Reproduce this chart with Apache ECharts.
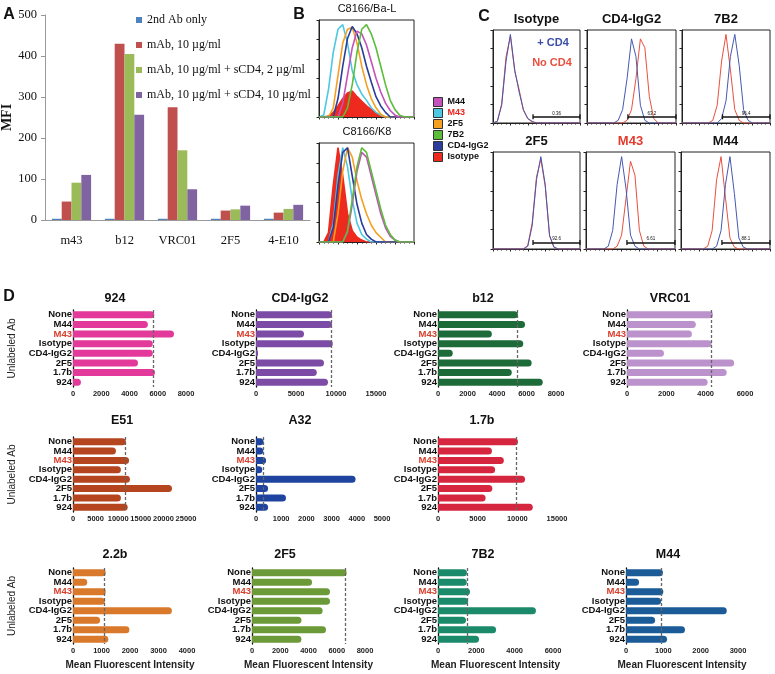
<!DOCTYPE html>
<html lang="en">
<head>
<meta charset="UTF-8">
<title>MFI panels | ECharts</title>
<script src="https://cdn.jsdelivr.net/npm/echarts@6.0.0/dist/echarts.min.js"></script>
<style>body{margin:0;background:#fff}</style>
</head>
<body>
<div id="main" style="width:775px;height:674px"></div>
<script>
// ---------- panel A : MFI by mAb ----------
var aCats = ['m43', 'b12', 'VRC01', '2F5', '4-E10'];
var aNames = ['2nd Ab only', 'mAb, 10 µg/ml', 'mAb, 10 µg/ml + sCD4, 2 µg/ml', 'mAb, 10 µg/ml + sCD4, 10 µg/ml'];
var aSecond = [3, 3, 3, 3, 3];
var aMab = [45, 430, 275, 23, 18];
var aMabLow = [91, 405, 170, 26, 27];
var aMabHigh = [110, 257, 75, 35, 37];

// ---------- panel B : histograms (x = channel 0..100, step 5) ----------
var histX = [0, 5, 10, 15, 20, 25, 30, 35, 40, 45, 50, 55, 60, 65, 70, 75, 80, 85, 90, 95, 100];
var bNames = ['M44', 'M43', '2F5', '7B2', 'CD4-IgG2', 'Isotype'];
var baIso = [0, 0, 1, 5, 12, 20, 26, 28, 22, 17, 12, 8, 4, 1, 0, 0, 0, 0, 0, 0, 0];
var baM43 = [0, 2, 30, 70, 95, 100, 80, 50, 35, 25, 18, 10, 5, 2, 0, 0, 0, 0, 0, 0, 0];
var ba2F5 = [0, 0, 0, 10, 45, 80, 95, 97, 80, 55, 35, 20, 10, 3, 0, 0, 0, 0, 0, 0, 0];
var baCD4 = [0, 0, 0, 0, 20, 55, 85, 98, 90, 75, 55, 38, 22, 12, 5, 0, 0, 0, 0, 0, 0];
var baM44 = [0, 0, 0, 0, 0, 15, 45, 75, 93, 90, 78, 60, 42, 27, 15, 7, 2, 0, 0, 0, 0];
var ba7B2 = [0, 0, 0, 0, 0, 0, 10, 35, 70, 95, 100, 90, 75, 55, 35, 18, 8, 2, 0, 0, 0];
var k8Iso = [0, 0, 10, 60, 100, 70, 30, 12, 5, 2, 0, 0, 0, 0, 0, 0, 0, 0, 0, 0, 0];
var k8M43 = [0, 0, 0, 20, 70, 100, 80, 45, 20, 8, 3, 0, 0, 0, 0, 0, 0, 0, 0, 0, 0];
var k82F5 = [0, 0, 0, 0, 30, 75, 100, 90, 65, 45, 30, 18, 10, 5, 0, 0, 0, 0, 0, 0, 0];
var k8CD4 = [0, 0, 0, 15, 60, 95, 100, 70, 40, 20, 8, 3, 0, 0, 0, 0, 0, 0, 0, 0, 0];
var k8M44 = [0, 0, 0, 0, 0, 0, 10, 40, 75, 95, 90, 70, 50, 30, 15, 6, 2, 0, 0, 0, 0];
var k87B2 = [0, 0, 0, 0, 0, 0, 12, 45, 80, 100, 95, 75, 55, 35, 18, 8, 2, 0, 0, 0, 0];

// ---------- panel C : +CD4 / No CD4 overlays ----------
var cTitles = ['Isotype', 'CD4-IgG2', '7B2', '2F5', 'M43', 'M44'];
var cGateValues = ['0.36', '63.2', '96.4', '92.6', '6.61', '88.1'];
var cGateFrom = 46;
var cIsoPlus = [0, 2, 20, 70, 100, 60, 35, 15, 5, 2, 0, 0, 0, 0, 0, 0, 0, 0, 0, 0, 0];
var cIsoNo = [0, 2, 22, 75, 98, 58, 38, 14, 5, 1, 0, 0, 0, 0, 0, 0, 0, 0, 0, 0, 0];
var cCD4Plus = [0, 0, 0, 0, 0, 0, 0, 3, 15, 50, 95, 75, 20, 3, 0, 0, 0, 0, 0, 0, 0];
var cCD4No = [0, 0, 0, 0, 0, 0, 0, 0, 0, 3, 15, 50, 95, 85, 30, 5, 0, 0, 0, 0, 0];
var c7B2Plus = [0, 0, 0, 0, 0, 0, 0, 0, 0, 5, 25, 75, 100, 65, 15, 3, 0, 0, 0, 0, 0];
var c7B2No = [0, 0, 0, 0, 0, 0, 0, 3, 20, 70, 100, 60, 15, 3, 0, 0, 0, 0, 0, 0, 0];
var c2F5Plus = [0, 0, 0, 0, 0, 0, 0, 0, 3, 25, 75, 100, 70, 15, 2, 0, 0, 0, 0, 0, 0];
var c2F5No = [0, 0, 0, 0, 0, 0, 0, 0, 4, 28, 78, 97, 68, 14, 2, 0, 0, 0, 0, 0, 0];
var cM43Plus = [0, 0, 0, 0, 0, 3, 20, 70, 100, 65, 15, 3, 0, 0, 0, 0, 0, 0, 0, 0, 0];
var cM43No = [0, 0, 0, 0, 0, 0, 0, 3, 15, 55, 95, 80, 20, 3, 0, 0, 0, 0, 0, 0, 0];
var cM44Plus = [0, 0, 0, 0, 0, 0, 0, 0, 3, 20, 70, 100, 60, 12, 2, 0, 0, 0, 0, 0, 0];
var cM44No = [0, 0, 0, 0, 0, 0, 3, 20, 75, 100, 55, 12, 2, 0, 0, 0, 0, 0, 0, 0, 0];

// ---------- panel D : competition MFI ----------
var dCats = ['None', 'M44', 'M43', 'Isotype', 'CD4-IgG2', '2F5', '1.7b', '924'];
var dTitles = ['924', 'CD4-IgG2', 'b12', 'VRC01', 'E51', 'A32', '1.7b', '2.2b', '2F5', '7B2', 'M44'];
var d924 = [5750, 5300, 7150, 5650, 5650, 4600, 5800, 560];
var dCD4 = [9500, 9500, 6000, 9600, 250, 8500, 7600, 9000];
var dB12 = [5420, 5900, 3650, 5780, 1000, 6350, 5000, 7100];
var dVRC01 = [4370, 3500, 3300, 4300, 1880, 5450, 5070, 4100];
var dE51 = [11700, 9500, 12400, 10600, 12600, 21900, 10600, 12100];
var dA32 = [300, 290, 400, 250, 3950, 480, 1190, 480];
var d17b = [10080, 6800, 8300, 7200, 10970, 6850, 6000, 11950];
var d22b = [1150, 500, 1150, 1120, 3470, 950, 1980, 1240];
var d2F5 = [6700, 4250, 5520, 5520, 5000, 3500, 5240, 3500];
var d7B2 = [1510, 1500, 1670, 1570, 5110, 1460, 3030, 2140];
var dM44 = [990, 350, 1000, 940, 2700, 780, 1580, 1100];
var dRefs = [5700, 9400, 5400, 4270, 11500, 280, 9830, 1100, 6580, 1500, 940];
var dMax = [8000, 15000, 8000, 6000, 25000, 5000, 15000, 4000, 8000, 6000, 3000];
var dStep = [2000, 5000, 2000, 2000, 5000, 1000, 5000, 1000, 2000, 2000, 1000];

var SANS = 'Liberation Sans';
var SERIF = 'Liberation Serif';

var chart = echarts.init(document.getElementById('main'));
var grids = [], xAxes = [], yAxes = [], series = [], graphics = [];

function addGrid(g, xa, ya) {
    g.outerBoundsMode = 'none';
    grids.push(g);
    var i = grids.length - 1;
    xa.gridIndex = i;
    ya.gridIndex = i;
    xAxes.push(xa);
    yAxes.push(ya);
    return i;
}

function text(x, y, s, size, weight, color, rotation) {
    graphics.push({
        type: 'text', x: x, y: y, rotation: rotation || 0, silent: true,
        style: {
            text: s, fontSize: size, fontWeight: weight, fontFamily: SANS, fill: color || '#111',
            align: 'center', verticalAlign: 'middle', textAlign: 'center', textVerticalAlign: 'middle'
        }
    });
}

// ----- A -----
var gA = addGrid({left: 45, top: 15, width: 265, height: 205},
    {type: 'category', data: aCats, axisLine: {lineStyle: {color: '#999'}}, axisTick: {show: false},
        axisLabel: {fontFamily: SERIF, fontSize: 12.5, color: '#111', margin: 14}},
    {type: 'value', min: 0, max: 500, interval: 100, splitLine: {show: false},
        axisLine: {show: true, lineStyle: {color: '#999'}}, axisTick: {show: true, length: 4, lineStyle: {color: '#999'}},
        axisLabel: {fontFamily: SERIF, fontSize: 12.5, color: '#111', margin: 8},
        name: 'MFI', nameLocation: 'middle', nameGap: 26, nameRotate: 90,
        nameTextStyle: {fontFamily: SERIF, fontWeight: 'bold', fontSize: 14, color: '#111'}});
var aColors = ['#4F81BD', '#C0504D', '#9BBB59', '#8064A2'];
[aSecond, aMab, aMabLow, aMabHigh].forEach(function (vals, i) {
    series.push({type: 'bar', name: aNames[i], xAxisIndex: gA, yAxisIndex: gA, data: vals,
        barGap: '0%', barCategoryGap: '26%', itemStyle: {color: aColors[i]}});
});

// ----- B -----
var bColors = {'M44': '#C452BB', 'M43': '#4CC8E3', '2F5': '#F5A021', '7B2': '#5BBD3A', 'CD4-IgG2': '#2A3C9C', 'Isotype': '#EE2A1E'};
var bSets = [
    {top: 20, height: 97, title: 'C8166/Ba-L', curves: {'Isotype': baIso, 'M43': baM43, '2F5': ba2F5, 'CD4-IgG2': baCD4, 'M44': baM44, '7B2': ba7B2}},
    {top: 143, height: 99, title: 'C8166/K8', curves: {'Isotype': k8Iso, 'M43': k8M43, '2F5': k82F5, 'CD4-IgG2': k8CD4, 'M44': k8M44, '7B2': k87B2}}
];
function histAxes() {
    return [
        {type: 'value', min: 0, max: 100, interval: 20, axisLabel: {show: false}, splitLine: {show: false},
            axisLine: {lineStyle: {color: '#222'}}, axisTick: {length: 2.5, lineStyle: {color: '#222'}},
            minorTick: {show: true, splitNumber: 4, length: 1.5, lineStyle: {color: '#222'}}},
        {type: 'value', min: 0, max: 105, interval: 21, axisLabel: {show: false}, splitLine: {show: false},
            axisLine: {show: true, lineStyle: {color: '#222'}}, axisTick: {show: true, length: 2.5, lineStyle: {color: '#222'}}}
    ];
}
bSets.forEach(function (s) {
    var ax = histAxes();
    var gi = addGrid({left: 319, top: s.top, width: 95, height: s.height, show: true, borderColor: '#222', borderWidth: 1}, ax[0], ax[1]);
    ['Isotype', 'M43', '2F5', 'CD4-IgG2', 'M44', '7B2'].forEach(function (n) {
        var vals = s.curves[n];
        var ser = {type: 'line', name: n, xAxisIndex: gi, yAxisIndex: gi, symbol: 'none',
            data: histX.map(function (x, k) { return [x, vals[k]]; }),
            lineStyle: {color: bColors[n], width: 1.6}, itemStyle: {color: bColors[n]}};
        if (n === 'Isotype') ser.areaStyle = {color: bColors[n], opacity: 1};
        series.push(ser);
    });
    text(367, s.top - 11, s.title, 11, 'normal');
});

// ----- C -----
var cCurves = [[cIsoPlus, cIsoNo], [cCD4Plus, cCD4No], [c7B2Plus, c7B2No], [c2F5Plus, c2F5No], [cM43Plus, cM43No], [cM44Plus, cM44No]];
var cBoxes = [[493, 30, 87, 93], [587, 30, 89, 93], [682, 30, 88, 93], [493, 152, 87, 97], [586, 152, 89, 97], [681, 152, 89, 97]];
cCurves.forEach(function (pair, i) {
    var b = cBoxes[i];
    var ax = histAxes();
    var gi = addGrid({left: b[0], top: b[1], width: b[2], height: b[3], show: true, borderColor: '#222', borderWidth: 1}, ax[0], ax[1]);
    series.push({type: 'line', name: 'No CD4', xAxisIndex: gi, yAxisIndex: gi, symbol: 'none',
        data: histX.map(function (x, k) { return [x, pair[1][k]]; }), lineStyle: {color: '#E8503F', width: 1}});
    series.push({type: 'line', name: '+ CD4', xAxisIndex: gi, yAxisIndex: gi, symbol: 'none',
        data: histX.map(function (x, k) { return [x, pair[0][k]]; }), lineStyle: {color: '#4658B0', width: 1},
        markLine: {silent: true, symbol: ['rect', 'rect'], symbolSize: [5, 1.3],
            lineStyle: {color: '#111', width: 1.5, type: 'solid'}, itemStyle: {color: '#111'},
            label: {show: true, position: 'middle', formatter: cGateValues[i], fontSize: 4.5, color: '#111', distance: 1},
            data: [[{coord: [cGateFrom, 7]}, {coord: [100, 7]}]]}});
    text(b[0] + b[2] / 2, b[1] - 11, cTitles[i], 13, 'bold', cTitles[i] === 'M43' ? '#E33B2E' : '#111');
});
text(553, 43, '+ CD4', 11, 'bold', '#3B4FA8');
text(552, 63, 'No CD4', 11, 'bold', '#E8503F');

// ----- D -----
var dVals = [d924, dCD4, dB12, dVRC01, dE51, dA32, d17b, d22b, d2F5, d7B2, dM44];
var dColors = ['#E2399B', '#7B4BA5', '#1D6B38', '#BB92CC', '#B4451E', '#1E44A0', '#D6263F', '#D9792B', '#6C9A38', '#1A8A6A', '#1B5C98'];
// [left, width, row, col, titleX]
var dLayout = [[73, 113, 0, 0, 115], [256, 120, 0, 1, 300], [438, 118, 0, 2, 483], [627, 118, 0, 3, 670],
    [73, 113, 1, 0, 122], [256, 126, 1, 1, 300], [438, 119, 1, 2, 482],
    [73, 114, 2, 0, 115], [252, 113, 2, 1, 285], [438, 115, 2, 2, 483], [626, 112, 2, 3, 668]];
var rowTop = [310, 437, 568], rowH = [77, 75, 76], rowTitleY = [299, 421, 555];
dVals.forEach(function (vals, i) {
    var L = dLayout[i];
    var xa = {type: 'value', min: 0, max: dMax[i], interval: dStep[i], splitLine: {show: false},
        axisLine: {lineStyle: {color: '#111', width: 1.3}}, axisTick: {length: 3, lineStyle: {color: '#111', width: 1.2}},
        axisLabel: {fontFamily: SANS, fontSize: 7.5, fontWeight: 'bold', color: '#222', margin: 3, hideOverlap: false,
            formatter: function (v) { return String(v); }}};
    var ya = {type: 'category', data: dCats, inverse: true,
        axisLine: {lineStyle: {color: '#111', width: 1.3}},
        axisTick: {alignWithLabel: true, interval: 0, length: 3, lineStyle: {color: '#111', width: 1.2}},
        axisLabel: {interval: 0, fontFamily: SANS, fontSize: 9.5, fontWeight: 'bold', color: '#111', margin: 1,
            formatter: function (v) { return v === 'M43' ? '{r|M43}' : v; },
            rich: {r: {color: '#D8402E', fontFamily: SANS, fontSize: 9.5, fontWeight: 'bold'}}}};
    if (L[3] === 0) {
        ya.name = 'Unlabeled Ab'; ya.nameLocation = 'middle'; ya.nameGap = 56; ya.nameRotate = 90;
        ya.nameTextStyle = {fontFamily: SANS, fontSize: 10, color: '#222'};
    }
    if (L[2] === 2) {
        xa.name = 'Mean Fluorescent Intensity'; xa.nameLocation = 'middle'; xa.nameGap = 16;
        xa.nameTextStyle = {fontFamily: SANS, fontSize: 10, fontWeight: 'bold', color: '#222'};
    }
    var gi = addGrid({left: L[0], top: rowTop[L[2]], width: L[1], height: rowH[L[2]]}, xa, ya);
    series.push({type: 'bar', name: 'D ' + dTitles[i], xAxisIndex: gi, yAxisIndex: gi, data: vals, barWidth: 7,
        itemStyle: {color: dColors[i], borderRadius: [0, 3.5, 3.5, 0]},
        markLine: {silent: true, symbol: ['none', 'none'], label: {show: false},
            lineStyle: {color: '#666', type: [3, 2], width: 1.3}, data: [{xAxis: dRefs[i]}]}});
    text(L[4], rowTitleY[L[2]], dTitles[i], 12.5, 'bold');
});

// panel letters
text(9, 15, 'A', 16, 'bold');
text(299, 15, 'B', 16, 'bold');
text(484, 17, 'C', 16, 'bold');
text(9, 297, 'D', 16, 'bold');

chart.setOption({
    animation: false,
    backgroundColor: '#fff',
    grid: grids,
    xAxis: xAxes,
    yAxis: yAxes,
    legend: [
        {left: 131, top: 8, orient: 'vertical', icon: 'rect', itemWidth: 6, itemHeight: 6, itemGap: 11,
            selectedMode: false, data: aNames,
            textStyle: {fontFamily: SERIF, fontSize: 12, color: '#111', lineHeight: 14}},
        {left: 428, top: 92, orient: 'vertical', icon: 'rect', itemWidth: 9, itemHeight: 9, itemGap: 1,
            selectedMode: false, data: bNames, itemStyle: {borderColor: '#333', borderWidth: 1},
            formatter: function (n) { return n === 'M43' ? '{r|M43}' : n; },
            textStyle: {fontFamily: SANS, fontSize: 9, fontWeight: 'bold', color: '#111', lineHeight: 10,
                rich: {r: {color: '#E8261C', fontFamily: SANS, fontSize: 9, fontWeight: 'bold'}}}}
    ],
    series: series,
    graphic: graphics
});
</script>
</body>
</html>
